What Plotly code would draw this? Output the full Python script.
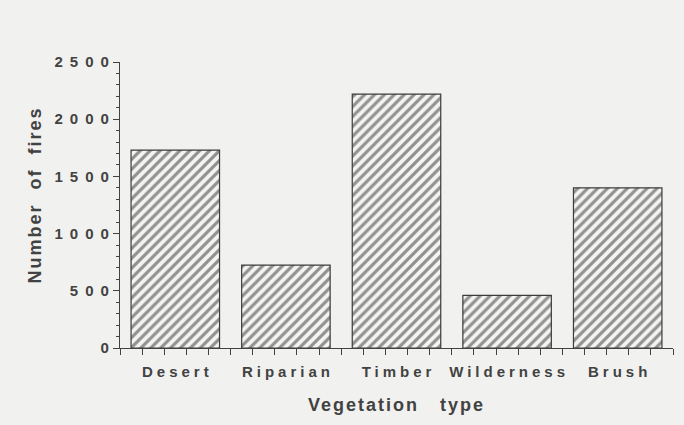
import plotly.graph_objects as go

categories = ["Desert", "Riparian", "Timber", "Wilderness", "Brush"]
fires = [1730, 725, 2220, 460, 1400]
y_ticks = [0, 500, 1000, 1500, 2000, 2500]
y_tick_labels = ["0", "500", "1000", "1500", "2000", "2500"]

ink = "#424242"
bg = "#f1f1ef"
fam = "Liberation Sans, Arial, sans-serif"
positions = list(range(len(categories)))

fig = go.Figure()
fig.add_trace(go.Bar(
    x=positions, y=fires, width=0.8,
    marker=dict(color=bg, line=dict(color="#3c3c3c", width=1.2),
                pattern=dict(shape="/", fgcolor="#2e2e2e", bgcolor="#f4f4f2",
                             size=7, solidity=0.45)),
    showlegend=False, hoverinfo="skip"))

fig.update_layout(
    width=684, height=425,
    margin=dict(l=120, r=11, t=62, b=77, autoexpand=False),
    paper_bgcolor=bg, plot_bgcolor=bg,
    font=dict(family=fam, size=15, color=ink),
    xaxis=dict(range=[-0.5, 4.5], tickvals=positions, ticktext=categories,
               automargin=False,
               ticks="outside", ticklen=7, tickcolor="rgba(0,0,0,0)",
               minor=dict(tick0=-0.5, dtick=0.2, ticks="outside", ticklen=6, tickcolor=ink),
               showline=True, linecolor=ink, linewidth=1.3, zeroline=False,
               showgrid=False, ticklabelstandoff=3,
               tickfont=dict(family=fam, size=15, color=ink, weight="bold"),
               title=dict(text="Vegetation   type", standoff=19,
                          font=dict(family=fam, size=18, color=ink, weight="bold"))),
    yaxis=dict(range=[0, 2500], tickvals=y_ticks, ticktext=y_tick_labels,
               automargin=False,
               ticks="outside", ticklen=6, tickcolor=ink,
               showline=True, linecolor=ink, linewidth=1.3, showgrid=False, zeroline=False,
               minor=dict(dtick=100, ticks="outside", ticklen=3, tickcolor=ink),
               tickfont=dict(family=fam, size=15, color=ink, weight="bold"),
               title=dict(text="Number  of  fires", standoff=30,
                          font=dict(family=fam, size=18, color=ink, weight="bold"))),
)

post = """
document.body.style.margin = '0';
var gd = document.getElementById('{plot_id}');
function spacing() {
  gd.querySelectorAll('.xtick text').forEach(function(t){ t.style.letterSpacing = '4px'; t.setAttribute('dx', '2'); });
  gd.querySelectorAll('.ytick text').forEach(function(t){ t.style.letterSpacing = '7px'; t.setAttribute('dx', '6'); });
  gd.querySelectorAll('.g-xtitle text').forEach(function(t){ t.style.letterSpacing = '2px'; });
  gd.querySelectorAll('.g-ytitle text').forEach(function(t){ t.style.letterSpacing = '2px'; });
  var yt = gd.querySelector('.g-ytitle');
  if (yt) { yt.setAttribute('transform', 'translate(0,-10)'); }
}
spacing();
setTimeout(spacing, 50);
if (gd.on) { gd.on('plotly_afterplot', spacing); }
"""

fig.write_html("out.html", post_script=post, config={"displayModeBar": False})
